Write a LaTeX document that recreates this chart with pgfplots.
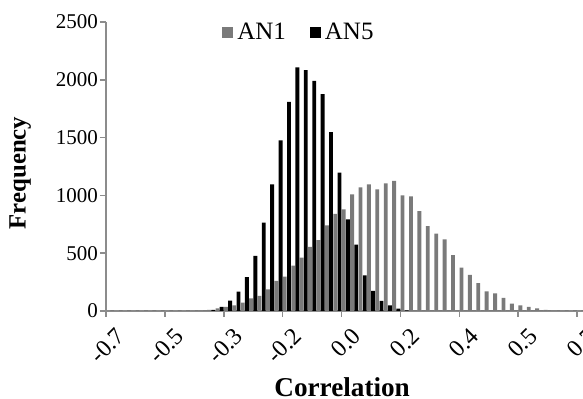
\documentclass[border=0pt]{standalone}
\usepackage{fontspec}
\setmainfont{Liberation Serif}
\usepackage{pgfplots}
\pgfplotsset{compat=1.18}
\usepackage{pgfplotstable}
\definecolor{barg}{RGB}{122,122,122}
\definecolor{axg}{RGB}{140,140,140}

\pgfplotstableread{
i AN1 AN5
0 0 0
1 0 0
2 0 0
3 0 0
4 0 0
5 0 0
6 0 0
7 0 0
8 0 0
9 0 0
10 3 0
11 5 0
12 10 10
13 22 35
14 35 90
15 49 167
16 72 294
17 110 476
18 130 765
19 188 1096
20 260 1477
21 297 1808
22 392 2108
23 462 2083
24 554 1990
25 614 1877
26 741 1548
27 840 1197
28 880 793
29 1009 574
30 1070 309
31 1095 173
32 1053 87
33 1103 49
34 1125 20
35 1001 5
36 992 0
37 863 0
38 735 0
39 670 0
40 620 0
41 483 0
42 375 0
43 312 0
44 240 0
45 170 0
46 152 0
47 113 0
48 64 0
49 49 0
50 36 0
51 22 0
52 10 0
53 5 0
54 3 0
55 0 0
56 0 0
}\datatable

\begin{document}
\begin{tikzpicture}
\begin{axis}[
  scale only axis, width=238.5pt, height=144.5pt,
  xmin=0, xmax=56.7, ymin=0, ymax=2500,
  axis x line*=bottom, axis y line*=left,
  axis line style={axg, line width=0.8pt},
  xtick={0,7,...,56},
  xticklabels={-0.7,-0.5,-0.3,-0.2,0.0,0.2,0.4,0.5,0.7},
  ytick={0,500,...,2500},
  scaled y ticks=false,
  /pgf/number format/1000 sep={},
  /pgf/number format/assume math mode=true,
  tick align=outside, major tick length=3pt,
  tick style={axg, line width=0.8pt},
  yticklabel style={font=\fontsize{10.5}{12}\selectfont, xshift=2.5pt},
  xticklabel style={font=\fontsize{12}{14}\selectfont, rotate=45, anchor=north east, xshift=3.5pt, yshift=-3pt},
  ylabel={\textbf{Frequency}},
  ylabel style={at={(axis description cs:-0.18,0.4775)}, anchor=center, font=\fontsize{12.4}{14}\selectfont},
  xlabel={\textbf{Correlation}},
  xlabel style={at={(axis description cs:0.495,-0.262)}, anchor=center, font=\fontsize{13.6}{15}\selectfont},
  legend style={at={(axis description cs:0.243,0.9637)}, anchor=west, draw=none, fill=none, inner sep=0pt,
    font=\fontsize{12.5}{14}\selectfont, /tikz/every even column/.append style={column sep=10pt}},
  legend columns=2,
  legend image code/.code={\path[#1] (0pt,-2.75pt) rectangle (5.5pt,2.75pt);},
]
\addplot[ybar, bar width=0.46, bar shift=-0.25, fill=barg, draw=none] table[x expr=\thisrow{i}+0.5, y=AN1] {\datatable};
\addlegendentry{AN1}
\addplot[ybar, bar width=0.46, bar shift=0.25, fill=black, draw=none] table[x expr=\thisrow{i}+0.5, y=AN5] {\datatable};
\addlegendentry{AN5}
\end{axis}
\pgfresetboundingbox
\path[use as bounding box] (-53pt,-44pt) rectangle (238.5pt,155.5pt);
\end{tikzpicture}
\end{document}
